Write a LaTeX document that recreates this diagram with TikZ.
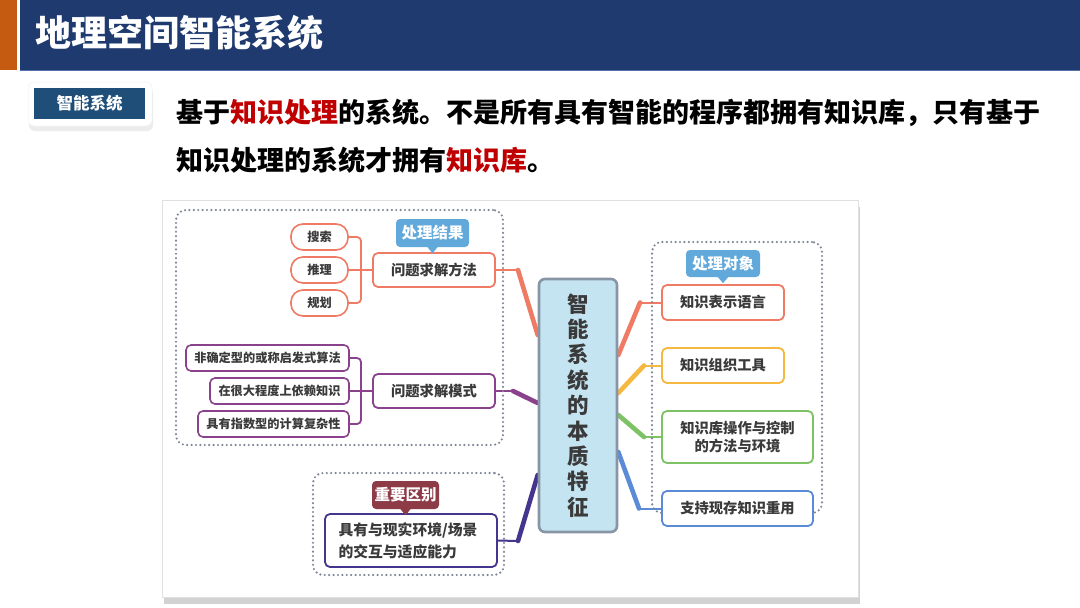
\documentclass[tikz,border=0pt]{standalone}
\usepackage{fontspec}
\setmainfont{Noto Sans CJK SC}
\usetikzlibrary{shadows}
\pgfdeclarelayer{background}
\pgfdeclarelayer{lines}
\pgfsetlayers{background,lines,main}
\definecolor{navy}{HTML}{1E3A6F}
\definecolor{navyline}{HTML}{5470A8}
\definecolor{barorange}{HTML}{C55A11}
\definecolor{tagblue}{HTML}{1F4E79}
\definecolor{kred}{HTML}{C00000}
\definecolor{txt}{HTML}{3A3A3A}
\definecolor{dotc}{HTML}{7F8697}
\definecolor{cOr}{HTML}{EF7B64}
\definecolor{cPu}{HTML}{8B428C}
\definecolor{cIn}{HTML}{45358F}
\definecolor{cYe}{HTML}{F5B841}
\definecolor{cGr}{HTML}{7DC365}
\definecolor{cBl}{HTML}{5B8BD6}
\definecolor{calBlue}{HTML}{62A9DB}
\definecolor{calRed}{HTML}{8C3B47}
\definecolor{coreFill}{HTML}{C4E4F1}
\definecolor{coreLine}{HTML}{8895A5}
\begin{document}
\begin{tikzpicture}[x=1pt,y=-1pt,
  box/.style={draw, fill=white, rounded corners=5pt, line width=1.8pt, text=txt,
    font=\fontsize{14.3}{18}\selectfont\bfseries, inner sep=0pt, align=center},
  leaf/.style={box, line width=1.6pt, font=\fontsize{12.2}{14}\selectfont\bfseries, minimum height=26pt},
  pill/.style={leaf, rounded corners=12pt, minimum width=57pt},
  callout/.style={rounded corners=4pt, text=white, inner sep=0pt,
    font=\fontsize{15.5}{18}\selectfont\bfseries},
  group/.style={draw=dotc, line width=2.4pt, dash pattern=on 0pt off 4.4pt, line cap=round,
    rounded corners=10pt, inner sep=0pt},
  thinc/.style={line width=1.8pt, rounded corners=4pt},
  link/.style={line width=2pt, line cap=round},
  trunk/.style={line width=4.6pt, line cap=round}
]
\useasboundingbox (0,0) rectangle (1080,608);
\begin{pgfonlayer}{background}
\fill[white] (0,0) rectangle (1080,608);
% panel
\node[fill=white, draw=black!12, line width=0.6pt, minimum width=696pt, minimum height=397pt,
  drop shadow={shadow xshift=2pt, shadow yshift=-7pt, opacity=0.35}] (panel) at (510,398.5) {};
\end{pgfonlayer}

% title bar
\fill[barorange] (0,0) rectangle (17,70);
\fill[navy] (20,0) rectangle (1080,70);
\draw[navyline, line width=1.5pt] (20,70.5) -- (1080,70.5);
\node[anchor=west, text=white, font=\fontsize{36}{40}\selectfont\bfseries, inner sep=0pt]
  (title) at (35,33) {地理空间智能系统};

% tag
\node[fill=white, draw=black!6, line width=0.5pt, rounded corners=6pt, minimum width=124pt, minimum height=44pt,
  drop shadow={shadow xshift=1pt, shadow yshift=-5pt, opacity=0.15}] (tagbg) at (90,104) {};
\node[fill=tagblue, minimum width=111pt, minimum height=31pt, text=white,
  font=\fontsize{16.5}{20}\selectfont\bfseries, inner sep=0pt] (tag) at (89.5,103.5) {智能系统};

% main text
\node[anchor=west, inner sep=0pt, font=\fontsize{27}{32}\selectfont\bfseries] (line1) at (176,113)
  {基于\textcolor{kred}{知识处理}的系统。不是所有具有智能的程序都拥有知识库，只有基于};
\node[anchor=west, inner sep=0pt, font=\fontsize{27}{32}\selectfont\bfseries] (line2) at (176,160)
  {知识处理的系统才拥有\textcolor{kred}{知识库}。};

% groups
\node[group, minimum width=327pt, minimum height=235pt] (gL) at (339.5,327.5) {};
\node[group, minimum width=191pt, minimum height=102pt] (gB) at (408.5,524) {};
\node[group, minimum width=170pt, minimum height=271pt] (gR) at (737,377.5) {};

% core
\node[draw=coreLine, fill=coreFill, line width=2.6pt, rounded corners=6pt,
  minimum width=78pt, minimum height=253pt, text=txt, align=center, inner sep=0pt,
  font=\fontsize{21.5}{25.4}\selectfont\bfseries] (core) at (578,405.5)
  {智\\能\\系\\统\\的\\本\\质\\特\\征};

% left upper branch
\node[box, draw=cOr, minimum width=122pt, minimum height=34pt] (M1) at (434,270) {问题求解方法};
\node[pill, draw=cOr] (L1) at (319.5,237) {搜索};
\node[pill, draw=cOr] (L2) at (319.5,270) {推理};
\node[pill, draw=cOr] (L3) at (319.5,303) {规划};
\coordinate (j1) at (361,270);
\draw[cOr, thinc] (L1.east) -| (j1) |- (L3.east);
\draw[cOr, line width=1.8pt] (L2.east) -- (M1.west);
\node[callout, fill=calBlue, minimum width=73pt, minimum height=28pt] (cb1) at (432.5,233) {处理结果};
\fill[calBlue] ([xshift=-5pt]cb1.south) -- ([xshift=5pt]cb1.south) -- ([yshift=-6pt]cb1.south) -- cycle;

% left lower branch
\node[box, draw=cPu, minimum width=122pt, minimum height=34pt] (M2) at (434,391) {问题求解模式};
\node[leaf, draw=cPu, minimum width=163pt] (P1) at (267.5,358) {非确定型的或称启发式算法};
\node[leaf, draw=cPu, minimum width=139pt] (P2) at (279.5,391) {在很大程度上依赖知识};
\node[leaf, draw=cPu, minimum width=151pt] (P3) at (273.5,424) {具有指数型的计算复杂性};
\coordinate (j2) at (361,391);
\draw[cPu, thinc] (P1.east) -| (j2) |- (P3.east);
\draw[cPu, line width=1.8pt] (P2.east) -- (M2.west);

% bottom branch
\node[box, draw=cIn, minimum width=172pt, minimum height=53pt, align=left, text width=145pt,
  font=\fontsize{14.8}{22}\selectfont\bfseries] (B1) at (411,540.5) {具有与现实环境/场景\\的交互与适应能力};
\node[callout, fill=calRed, minimum width=67pt, minimum height=28pt] (cb3) at (405.5,495) {重要区别};
\fill[calRed] ([xshift=-5pt]cb3.south) -- ([xshift=5pt]cb3.south) -- ([yshift=-6pt]cb3.south) -- cycle;

% right branch
\node[box, draw=cOr, minimum width=122pt, minimum height=35pt] (R1) at (723,302.5) {知识表示语言};
\node[box, draw=cYe, minimum width=122pt, minimum height=35pt] (R2) at (723,365.5) {知识组织工具};
\node[box, draw=cGr, minimum width=151pt, minimum height=52pt] (R3) at (737.5,437) {知识库操作与控制\\的方法与环境};
\node[box, draw=cBl, minimum width=151pt, minimum height=35pt] (R4) at (737.5,508.5) {支持现存知识重用};
\node[callout, fill=calBlue, minimum width=74pt, minimum height=27pt] (cb2) at (723,263.5) {处理对象};
\fill[calBlue] ([xshift=-5pt]cb2.south) -- ([xshift=5pt]cb2.south) -- ([yshift=-6pt]cb2.south) -- cycle;

% connectors to core (behind the nodes, above the panel)
\coordinate (bM1) at (518,270);
\coordinate (bM2) at (513,391);
\coordinate (bB1) at (518,541);
\coordinate (bR1) at (640,302.5);
\coordinate (bR2) at (644,365.5);
\coordinate (bR3) at (644,437);
\coordinate (bR4) at (639,508.5);
\begin{pgfonlayer}{lines}
\draw[cOr, link] (M1.east) -- (bM1);
\draw[cOr, trunk] (bM1) -- (core.west |- 0,335);
\draw[cPu, link] (M2.east) -- (bM2);
\draw[cPu, trunk] (bM2) -- (core.west |- 0,403);
\draw[cIn, link] (B1.east) -- (bB1);
\draw[cIn, trunk] (bB1) -- (core.west |- 0,475);
\draw[cOr, link] (R1.west) -- (bR1);
\draw[cOr, trunk] (bR1) -- (core.east |- 0,355);
\draw[cYe, link] (R2.west) -- (bR2);
\draw[cYe, trunk] (bR2) -- (core.east |- 0,393);
\draw[cGr, link] (R3.west) -- (bR3);
\draw[cGr, trunk] (bR3) -- (core.east |- 0,415);
\draw[cBl, link] (R4.west) -- (bR4);
\draw[cBl, trunk] (bR4) -- (core.east |- 0,452);
\end{pgfonlayer}
\end{tikzpicture}
\end{document}
